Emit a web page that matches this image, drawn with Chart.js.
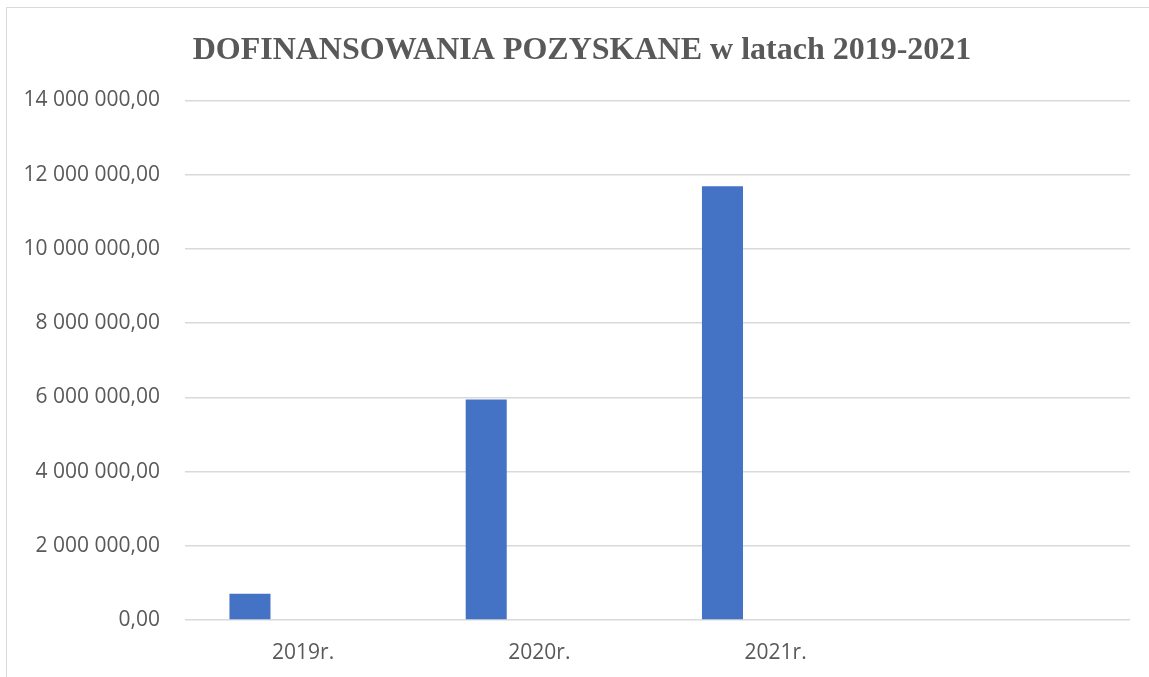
<!DOCTYPE html>
<html lang="pl">
<head>
<meta charset="utf-8">
<title>Dofinansowania pozyskane</title>
<script src="https://cdn.jsdelivr.net/npm/chart.js@4.4.1/dist/chart.umd.min.js"></script>
<style>
    html, body { margin: 0; padding: 0; background: #fff; }
    #wrap { position: relative; width: 1149px; height: 677px; overflow: hidden; }
    /* ramka wykresu jak w Excelu */
    #frame {
        position: absolute; left: 6px; top: 7px; width: 1300px; height: 800px;
        border-left: 1.5px solid #d9d9d9; border-top: 1.5px solid #d9d9d9;
    }
    #chart { position: absolute; left: 0; top: 0; }
</style>
</head>
<body>
<div id="wrap">
    <div id="frame"></div>
    <canvas id="chart" width="1149" height="677"></canvas>
</div>
<script>
// dane
const lata = ['2019r.', '2020r.', '2021r.', ''];
const dofinansowania = [708000, 5940000, 11685000, null];
const seriaPusta = [null, null, null, null]; // druga seria bez wartości (zajmuje miejsce w grupie)

const tytul = 'DOFINANSOWANIA POZYSKANE w latach 2019-2021';

function formatPL(v) {
    return Math.round(v).toString().replace(/\B(?=(\d{3})+(?!\d))/g, ' ') + ',00';
}

const ctx = document.getElementById('chart').getContext('2d');
new Chart(ctx, {
    type: 'bar',
    data: {
        labels: lata,
        datasets: [{
            label: 'Dofinansowania',
            data: dofinansowania,
            backgroundColor: '#4472C4',
            categoryPercentage: 0.9,
            barPercentage: 0.386
        }, {
            label: '',
            data: seriaPusta,
            backgroundColor: '#ED7D31',
            categoryPercentage: 0.9,
            barPercentage: 0.386
        }]
    },
    options: {
        responsive: false,
        animation: false,
        layout: { padding: { left: 34, right: 19, top: 0, bottom: 0 } },
        plugins: {
            legend: { display: false },
            tooltip: { enabled: false },
            title: {
                display: true,
                text: tytul,
                color: '#595959',
                font: { family: '"Liberation Serif", "Times New Roman", serif', size: 32, weight: 'bold', lineHeight: 1.2 },
                padding: { top: 32, bottom: 30 }
            }
        },
        scales: {
            x: {
                grid: { display: false },
                border: { display: false },
                ticks: {
                    color: '#595959',
                    font: { family: '"Open Sans", sans-serif', size: 21 },
                    padding: 12,
                    maxRotation: 0
                },
                afterFit: (s) => { s.height = 57; }
            },
            y: {
                min: 0,
                max: 14000000,
                border: { display: false },
                grid: { color: '#d9d9d9', lineWidth: 1.5, drawTicks: false },
                ticks: {
                    stepSize: 2000000,
                    color: '#595959',
                    font: { family: '"Open Sans", sans-serif', size: 21 },
                    padding: 25,
                    callback: (v) => formatPL(v)
                },
                afterFit: (s) => { s.width = 151; },
                // etykiety wychodzą w lewo poza oś - bez przycinania
                afterUpdate: (s) => { s._computeLabelArea = () => undefined; }
            }
        }
    }
});
</script>
</body>
</html>
